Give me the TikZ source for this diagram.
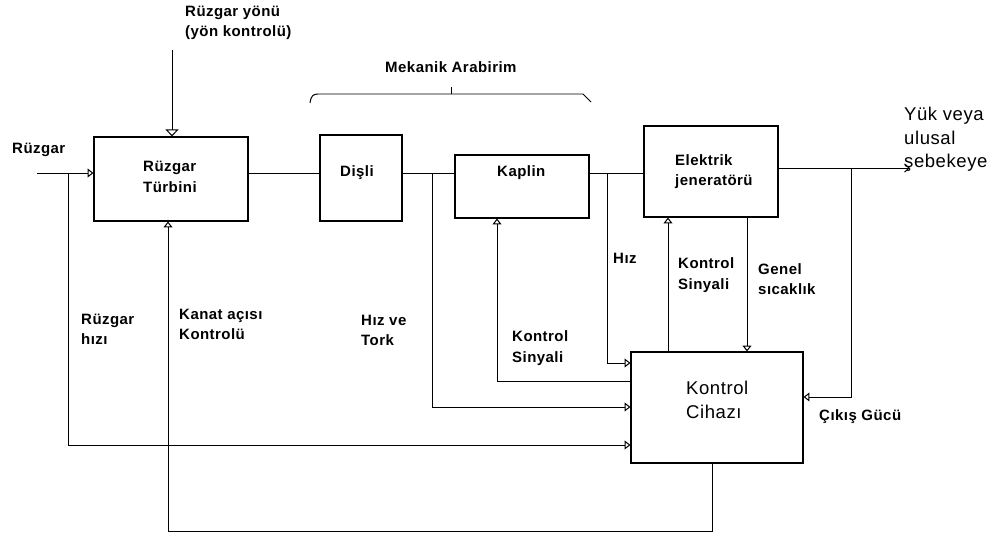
\documentclass[tikz,border=0pt]{standalone}
\usepackage{fontspec}
\setmainfont{Liberation Sans}[LetterSpace=3]
\usetikzlibrary{arrows.meta,fit}
\begin{document}
\begin{tikzpicture}[x=0.03cm,y=-0.03cm,
 box/.style={draw, line width=0.9pt, inner sep=0pt},
 lbl/.style={font=\bfseries\fontsize{12.8}{17.5}\selectfont, align=left, anchor=west, inner sep=0pt},
 big/.style={font=\fontsize{15.8}{20}\selectfont, align=left, anchor=west, inner sep=0pt},
 ln/.style={line width=0.85pt},
 arr/.style={ln, -{Triangle[open, length=5pt, width=7.5pt]}},
 arrbig/.style={ln, -{Triangle[open, length=6pt, width=11pt]}},
]
\useasboundingbox (0,0) rectangle (996,535);
% boxes
\node[box, fit={(94,137) (248,221)}] (turb) {};
\node[box, fit={(320,135) (402,221)}] (disli) {};
\node[box, fit={(455,155) (589,218)}] (kaplin) {};
\node[box, fit={(644,126) (778,217)}] (gen) {};
\node[box, fit={(631,352) (803,463)}] (ctrl) {};
% texts
\node[lbl] (tyon) at (185,23) {Rüzgar yönü\\(yön kontrolü)};
\node[lbl] (tmek) at (385,67) {Mekanik Arabirim};
\node[lbl] (trz) at (12,150) {Rüzgar};
\node[lbl] (tturb) at (143,177) {Rüzgar\\Türbini};
\node[lbl] (tdisli) at (340,173) {Dişli};
\node[lbl] (tkaplin) at (497,173) {Kaplin};
\node[lbl] (tgen) at (675,171.5) {Elektrik\\jeneratörü};
\node[lbl] (thiz) at (613,258) {Hız};
\node[lbl] (tks1) at (678,275) {Kontrol\\Sinyali};
\node[lbl] (tgs) at (758,279) {Genel\\sıcaklık};
\node[lbl] (trh) at (81,329.5) {Rüzgar\\hızı};
\node[lbl] (tkak) at (179,324.5) {Kanat açısı\\Kontrolü};
\node[lbl] (tht) at (361,330.5) {Hız ve\\Tork};
\node[lbl] (tks2) at (512,348) {Kontrol\\Sinyali};
\node[big] (tctrl) at (686,400) {Kontrol\\Cihazı};
\node[lbl] (tcg) at (819,417) {Çıkış Gücü};
\node[big] (tyuk) at (904,139.5) {Yük veya\\ulusal\\şebekeye};
% helper coordinates
\coordinate (wtop) at (172,50);
\coordinate (win) at (37,173);
\coordinate (b1) at (68,173);
\coordinate (b2) at (432,173);
\coordinate (b3) at (607,173);
\coordinate (out) at (910,168);
\coordinate (b4) at (851,168);
\coordinate (y445) at (0,445);
\coordinate (y407) at (0,407);
\coordinate (y381) at (0,381);
\coordinate (y363) at (0,363);
\coordinate (y397) at (0,397);
\coordinate (y531) at (0,531);
\coordinate (x497) at (497,0);
\coordinate (x668) at (668,0);
\coordinate (x747) at (747,0);
\coordinate (x712) at (712,0);
\coordinate (x168) at (168,0);
% connectors
\draw[arrbig] (wtop) -- (wtop |- turb.north);
\draw[arr] (win) -- (win -| turb.west);
\draw[arr] (b1) |- (ctrl.west |- y445);
\draw[ln] (turb.east |- win) -- (disli.west |- win);
\draw[ln] (disli.east |- win) -- (kaplin.west |- win);
\draw[arr] (b2) |- (ctrl.west |- y407);
\draw[arr] (ctrl.west |- y381) -| (x497 |- kaplin.south);
\draw[ln] (kaplin.east |- win) -- (gen.west |- win);
\draw[arr] (b3) |- (ctrl.west |- y363);
\draw[arr] (x668 |- ctrl.north) -- (x668 |- gen.south);
\draw[arr] (x747 |- gen.south) -- (x747 |- ctrl.north);
\draw[ln, -{Straight Barb[length=4pt, width=7pt]}] (out -| gen.east) -- (out);
\draw[arr] (b4) |- (ctrl.east |- y397);
\draw[arr] (x712 |- ctrl.south) |- (x168 |- y531) -- (x168 |- turb.south);
% brace
\coordinate (brL) at (310,103);
\coordinate (brR) at (591,102);
\coordinate (brM) at (451,94);
\draw[ln] (brL) .. controls (311,96) and (313,94) .. (318,94) -- (583,94) -- (brR);
\draw[ln] (brM) -- ++(0,-7);
\end{tikzpicture}
\end{document}
